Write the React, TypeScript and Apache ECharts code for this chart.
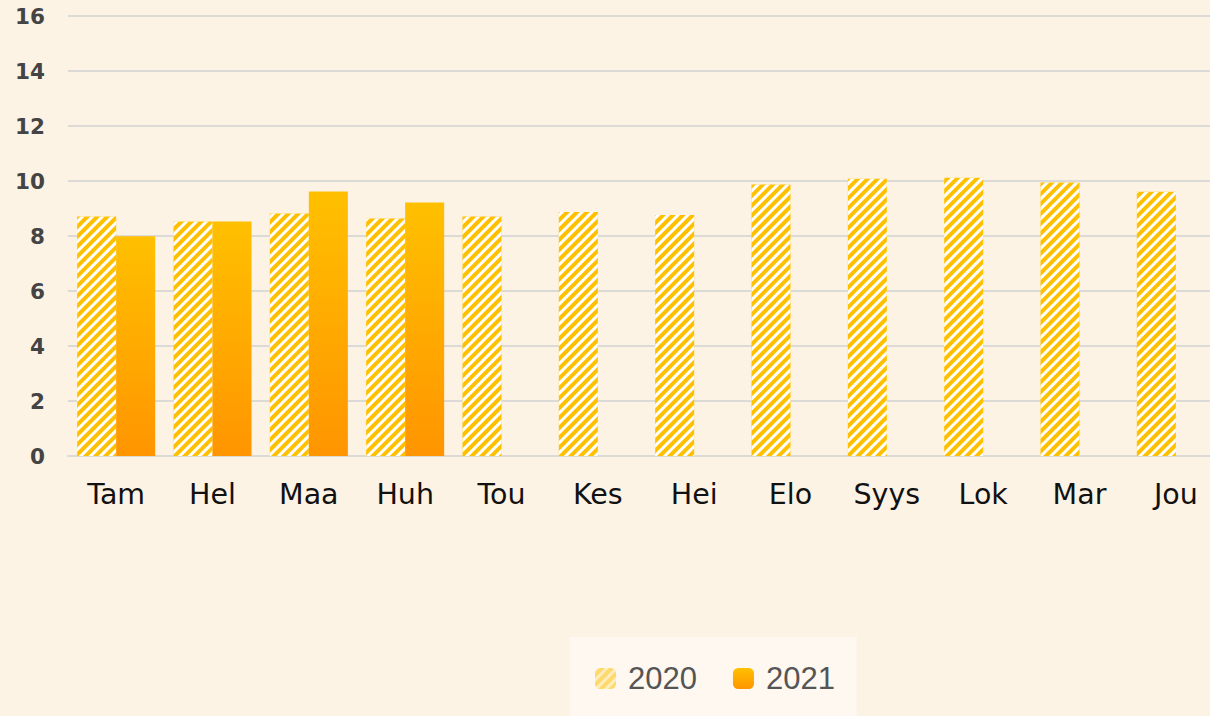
import React, { useEffect, useRef } from "react";
import * as echarts from "echarts";

const categories = ["Tam", "Hel", "Maa", "Huh", "Tou", "Kes", "Hei", "Elo", "Syys", "Lok", "Mar", "Jou"];
const values2020 = [8.71, 8.53, 8.82, 8.64, 8.71, 8.87, 8.76, 9.87, 10.08, 10.12, 9.95, 9.61];
const values2021: (number | null)[] = [7.99, 8.53, 9.62, 9.22, null, null, null, null, null, null, null, null];
const yTicks = { min: 0, max: 16, interval: 2 };

const stripeDecal = {
  symbol: "rect",
  symbolSize: 1,
  color: "#FFFFFF",
  dashArrayX: [1, 0],
  dashArrayY: [3, 4],
  rotation: -Math.PI / 4,
};

export default function App() {
  const ref = useRef<HTMLDivElement>(null);
  useEffect(() => {
    document.body.style.margin = "0";
    document.body.style.overflow = "hidden";
    document.documentElement.style.overflow = "hidden";
    if (!ref.current) return;
    const chart = echarts.init(ref.current, null, { renderer: "svg" });
    const gradient = new echarts.graphic.LinearGradient(0, 0, 0, 1, [
      { offset: 0, color: "#FFC000" },
      { offset: 1, color: "#FF9500" },
    ]);
    chart.setOption({
      animation: false,
      backgroundColor: "#FDF3E5",
      grid: { left: 68, top: 16, right: 0, height: 440, containLabel: false },
      legend: {
        left: 570,
        top: 637,
        padding: [26, 22, 26, 25],
        backgroundColor: "#FEF8F1",
        itemWidth: 21,
        itemHeight: 21,
        itemGap: 36,
        textStyle: {
          fontSize: 31,
          color: "#555555",
          fontFamily: "Liberation Sans, Arial, sans-serif",
          padding: [0, 0, 0, 7],
        },
        data: [
          { name: "2020", itemStyle: { opacity: 0.55 } },
          { name: "2021" },
        ],
      },
      xAxis: {
        type: "category",
        data: categories,
        axisLine: { show: true, lineStyle: { color: "#DCDAD6", width: 2 } },
        axisTick: { show: false },
        axisLabel: {
          color: "#111111",
          fontSize: 28.5,
          fontFamily: "DejaVu Sans, Verdana, sans-serif",
          margin: 24,
          interval: 0,
        },
      },
      yAxis: {
        type: "value",
        min: yTicks.min,
        max: yTicks.max,
        interval: yTicks.interval,
        axisLine: { show: false },
        axisTick: { show: false },
        splitLine: { lineStyle: { color: "#DCDAD6", width: 2 } },
        axisLabel: {
          color: "#444444",
          fontSize: 21.5,
          fontWeight: "bold",
          fontFamily: "DejaVu Sans, Verdana, sans-serif",
          margin: 23,
        },
      },
      series: [
        {
          name: "2020",
          type: "bar",
          data: values2020,
          barGap: "0%",
          barCategoryGap: "19%",
          itemStyle: { color: "#FFC000", decal: stripeDecal },
        },
        {
          name: "2021",
          type: "bar",
          data: values2021,
          barGap: "0%",
          barCategoryGap: "19%",
          itemStyle: { color: gradient },
        },
      ],
    });
    return () => chart.dispose();
  }, []);
  return <div ref={ref} style={{ width: 1224, height: 716 }} />;
}
